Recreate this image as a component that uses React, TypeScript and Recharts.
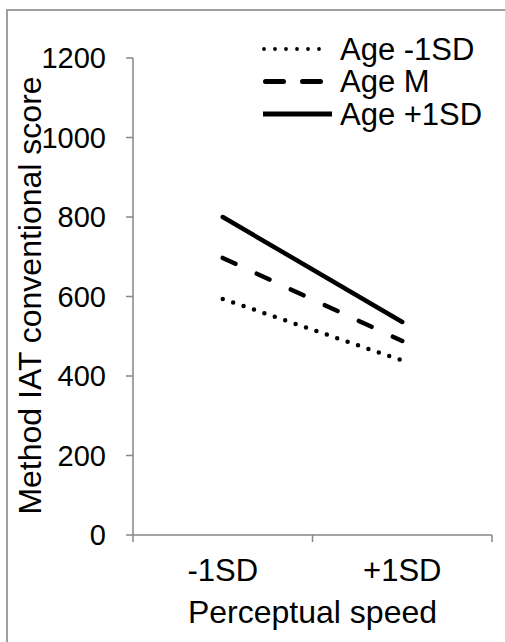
import { LineChart, Line, XAxis, YAxis } from "recharts"

const categories = ["-1SD", "+1SD"]
const ageMinus1SD = [594, 439]
const ageMean = [697, 488]
const agePlus1SD = [800, 536]
const yTicks = [0, 200, 400, 600, 800, 1000, 1200]
const xTicks = [0, 0.5, 1, 1.5, 2]

const data = categories.map((label, i) => ({
  pos: i + 0.5,
  label,
  lo: ageMinus1SD[i],
  mid: ageMean[i],
  hi: agePlus1SD[i],
}))

const FONT = "'Liberation Sans', Arial, sans-serif"
const AXIS = "#868686"

function XTick(props: any) {
  const { x, y, payload } = props
  const v = payload.value
  if (Number.isInteger(v)) {
    return <line x1={x} x2={x} y1={y - 7} y2={y} stroke={AXIS} strokeWidth={1.5} />
  }
  const idx = Math.floor(v)
  return (
    <text x={x} y={y + 39} textAnchor="middle" fontSize={31} fill="#000" fontFamily={FONT}>
      {categories[idx]}
    </text>
  )
}

function YTick(props: any) {
  const { x, y, payload } = props
  return (
    <text x={x} y={y} textAnchor="end" dominantBaseline="central" fontSize={29} fill="#000" fontFamily={FONT}>
      {payload.value}
    </text>
  )
}

function YTitle(props: any) {
  const vb = props.viewBox
  const cy = vb.y + vb.height / 2 - 1
  return (
    <text
      x={30}
      y={cy}
      transform={`rotate(-90 30 ${cy})`}
      textAnchor="middle"
      dominantBaseline="central"
      fontSize={32}
      fill="#000"
      fontFamily={FONT}
    >
      Method IAT conventional score
    </text>
  )
}

function LegendBox() {
  const rows = [
    { name: "Age -1SD", dash: "0 11", w: 3.8, x1: 264, x2: 330 },
    { name: "Age M", dash: "18 19", w: 5, x1: 265.5, x2: 330 },
    { name: "Age +1SD", dash: undefined, w: 5, x1: 263, x2: 332 },
  ]
  return (
    <svg width={505} height={140} style={{ position: "absolute", left: 0, top: 0, pointerEvents: "none" }}>
      {rows.map((r, i) => {
        const cy = 49 + i * 32.5
        return (
          <g key={r.name}>
            <line x1={r.x1} x2={r.x2} y1={cy} y2={cy} stroke="#000" strokeWidth={r.w} strokeDasharray={r.dash} strokeLinecap={r.dash ? "round" : "butt"} />
            <text x={340} y={cy} dominantBaseline="central" fontSize={31} fill="#000" fontFamily={FONT}>
              {r.name}
            </text>
          </g>
        )
      })}
    </svg>
  )
}

export default function App() {
  return (
    <div style={{ position: "fixed", left: 0, top: 0, width: 505, height: 642, overflow: "hidden", background: "#fff" }}>
      <div style={{ position: "absolute", left: 6, top: 9, width: 1000, height: 1000, border: "2px solid #a0a0a0" }} />
      <div style={{ position: "absolute", left: 0, top: 0 }}>
        <LineChart width={505} height={642} data={data} margin={{ top: 58, right: 13, left: 0, bottom: 27 }}>
          <XAxis
            dataKey="pos"
            type="number"
            domain={[0, 2]}
            ticks={xTicks}
            interval={0}
            tick={<XTick />}
            tickLine={false}
            tickSize={7}
            tickMargin={0}
            height={80}
            axisLine={{ stroke: AXIS, strokeWidth: 1.5 }}
            label={{ value: "Perceptual speed", position: "bottom", offset: -15, fontSize: 32, fill: "#000", fontFamily: FONT }}
          />
          <YAxis
            domain={[0, 1200]}
            ticks={yTicks}
            interval={0}
            width={133}
            tickSize={7}
            tickMargin={20}
            tick={<YTick />}
            tickLine={{ stroke: AXIS, strokeWidth: 1.5 }}
            axisLine={{ stroke: AXIS, strokeWidth: 1.5 }}
            label={<YTitle />}
          />
          <Line dataKey="lo" stroke="#000" strokeWidth={4.5} strokeDasharray="0 11" strokeLinecap="round" dot={false} isAnimationActive={false} />
          <Line dataKey="mid" stroke="#000" strokeWidth={4.5} strokeDasharray="14 23.5" strokeLinecap="round" dot={false} isAnimationActive={false} />
          <Line dataKey="hi" stroke="#000" strokeWidth={4.5} strokeLinecap="round" dot={false} isAnimationActive={false} />
        </LineChart>
      </div>
      <LegendBox />
    </div>
  )
}
